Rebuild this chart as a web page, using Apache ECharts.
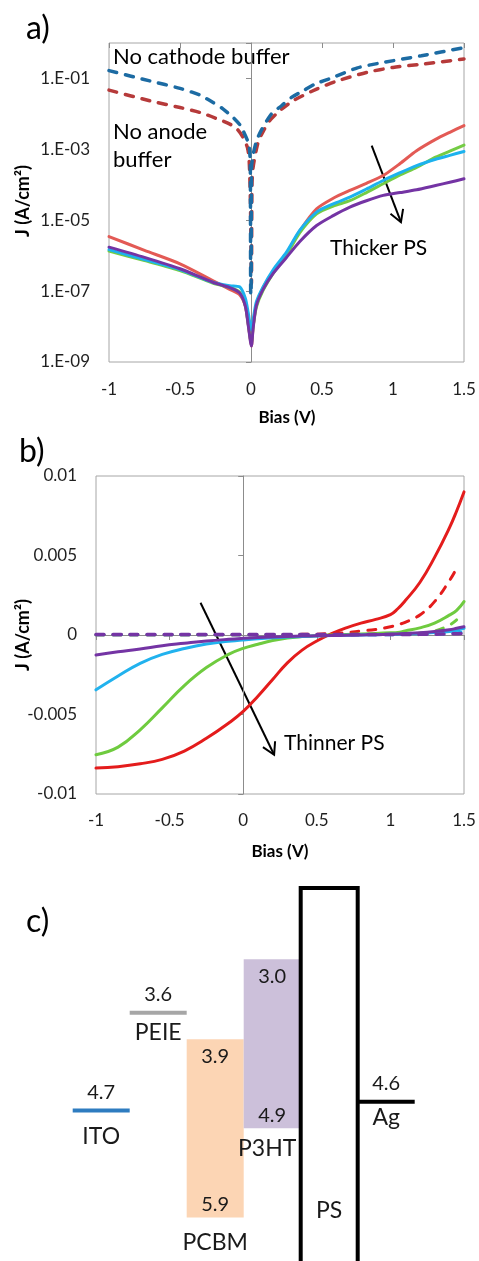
<!DOCTYPE html>
<html>
<head>
<meta charset="utf-8">
<script src="https://cdn.jsdelivr.net/npm/echarts@6/dist/echarts.min.js"></script>
<style>
  html, body { margin: 0; padding: 0; background: #ffffff; }
  #chart { width: 479px; height: 1261px; }
</style>
</head>
<body>
<div id="chart"></div>
<script>
// ---------- (a) dark J–V curves, log10(J) in A/cm² ----------
const biasA = [-1, -0.75, -0.5, -0.27, -0.15, -0.08, -0.04, -0.02, -0.004, 0.003, 0.015, 0.038, 0.085, 0.156, 0.25, 0.344, 0.462, 0.579, 0.696, 0.813, 0.931, 1.05, 1.166, 1.3, 1.4, 1.5];
const logJ_a_red    = [-5.46, -5.85, -6.23, -6.70, -6.95, -7.10, -7.42, -7.92, -8.39, -8.55, -8.00, -7.38, -6.90, -6.45, -5.95, -5.30, -4.68, -4.38, -4.16, -3.96, -3.74, -3.40, -3.04, -2.72, -2.52, -2.33];
const logJ_a_green  = [-5.87, -6.14, -6.42, -6.77, -6.90, -7.03, -7.40, -7.90, -8.35, -8.45, -8.00, -7.45, -6.98, -6.50, -5.98, -5.35, -4.82, -4.60, -4.45, -4.22, -3.97, -3.72, -3.51, -3.22, -3.05, -2.88];
const logJ_a_cyan   = [-5.83, -6.11, -6.39, -6.75, -6.85, -6.88, -7.20, -7.60, -8.00, -8.10, -7.80, -7.30, -6.88, -6.40, -5.90, -5.28, -4.77, -4.54, -4.35, -4.12, -3.88, -3.66, -3.46, -3.28, -3.17, -3.06];
const logJ_a_purple = [-5.76, -6.05, -6.37, -6.75, -6.90, -7.05, -7.42, -7.95, -8.42, -8.55, -8.05, -7.40, -6.95, -6.50, -6.05, -5.60, -5.15, -4.87, -4.63, -4.45, -4.30, -4.22, -4.14, -4.02, -3.93, -3.83];

const biasNoCathode = [-1, -0.713, -0.5, -0.36, -0.267, -0.2, -0.126, -0.08, -0.056, -0.025, -0.012, -0.005, -0.002, 0.001, 0.004, 0.015, 0.04, 0.074, 0.144, 0.215, 0.285, 0.367, 0.45, 0.579, 0.75, 0.931, 1.2, 1.5];
const logJ_noCathode = [-0.78, -1.07, -1.28, -1.47, -1.68, -1.85, -2.10, -2.30, -2.47, -2.75, -2.95, -3.40, -7.10, -7.00, -3.50, -3.15, -2.75, -2.45, -2.00, -1.77, -1.535, -1.35, -1.16, -0.97, -0.70, -0.55, -0.36, -0.13];

const biasNoAnode = [-1, -0.713, -0.5, -0.36, -0.25, -0.149, -0.1, -0.056, -0.025, -0.013, -0.004, 0.003, 0.007, 0.015, 0.05, 0.085, 0.13, 0.2, 0.3, 0.462, 0.6, 0.814, 1.0, 1.2, 1.5];
const logJ_noAnode = [-1.33, -1.63, -1.82, -1.96, -2.12, -2.29, -2.42, -2.66, -2.95, -3.30, -4.50, -6.80, -4.00, -3.50, -2.80, -2.50, -2.20, -1.92, -1.62, -1.30, -1.08, -0.83, -0.69, -0.60, -0.45];

// ---------- (b) illuminated J–V curves, J in A/cm² ----------
const biasB = [-1, -0.85, -0.7, -0.55, -0.4, -0.25, -0.1, 0, 0.1, 0.2, 0.3, 0.4, 0.5, 0.6, 0.7, 0.8, 0.9, 1.0, 1.05, 1.1, 1.2, 1.3, 1.4, 1.45, 1.5];
const jRedB        = [-0.00837, -0.00828, -0.00810, -0.00782, -0.00730, -0.00650, -0.00555, -0.00481, -0.00385, -0.00280, -0.00175, -0.00095, -0.00038, 0.00008, 0.00045, 0.00075, 0.00098, 0.00128, 0.00165, 0.00215, 0.00330, 0.00488, 0.00672, 0.00780, 0.00900];
const jRedDarkB    = [0.00002, 0.00002, 0.00002, 0.00002, 0.00002, 0.00002, 0.00002, 0.00002, 0.00002, 0.00002, 0.00003, 0.00004, 0.00005, 0.00010, 0.00015, 0.00025, 0.00035, 0.00052, 0.00065, 0.00080, 0.00126, 0.00210, 0.00340, 0.00420, null];
const jGreenB      = [-0.00753, -0.00705, -0.00596, -0.00458, -0.00318, -0.00205, -0.00122, -0.00084, -0.00058, -0.00035, -0.00019, -0.00010, -0.00004, 0.00000, 0.00003, 0.00006, 0.00010, 0.00014, 0.00016, 0.00026, 0.00045, 0.00075, 0.00125, 0.00155, 0.00210];
const jGreenDarkB  = [0.00001, 0.00001, 0.00001, 0.00001, 0.00001, 0.00001, 0.00001, 0.00001, 0.00001, 0.00001, 0.00001, 0.00001, 0.00002, 0.00002, 0.00003, 0.00003, 0.00004, 0.00005, 0.00006, 0.00007, 0.00012, 0.00024, 0.00062, 0.00095, null];
const jCyanB       = [-0.00345, -0.00258, -0.00178, -0.00122, -0.00085, -0.00057, -0.00040, -0.00031, -0.00024, -0.00018, -0.00013, -0.00009, -0.00006, -0.00003, -0.00001, 0.00000, 0.00002, 0.00004, 0.00005, 0.00007, 0.00010, 0.00015, 0.00022, 0.00030, 0.00042];
const jCyanDarkB   = [0.00001, 0.00001, 0.00001, 0.00001, 0.00001, 0.00001, 0.00001, 0.00001, 0.00001, 0.00001, 0.00001, 0.00001, 0.00001, 0.00001, 0.00001, 0.00001, 0.00001, 0.00002, 0.00002, 0.00003, 0.00004, 0.00006, 0.00010, 0.00014, 0.00020];
const jPurpleB     = [-0.00126, -0.00106, -0.00088, -0.00067, -0.00052, -0.00038, -0.00027, -0.00021, -0.00016, -0.00012, -0.00009, -0.00007, -0.00005, -0.00003, -0.00002, 0.00000, 0.00002, 0.00005, 0.00007, 0.00009, 0.00014, 0.00022, 0.00033, 0.00042, 0.00052];
const jPurpleDarkB = [0.00003, 0.00003, 0.00003, 0.00003, 0.00003, 0.00003, 0.00003, 0.00003, 0.00003, 0.00003, 0.00003, 0.00003, 0.00003, 0.00003, 0.00003, 0.00003, 0.00003, 0.00003, 0.00003, 0.00003, 0.00004, 0.00005, 0.00007, 0.00008, 0.00010];

// ---------- (c) energy levels (eV below vacuum) ----------
const electrodeNames = ['ITO', 'PEIE', 'Ag'];
const workFunctions  = [4.7, 3.6, 4.6];
const bandNames = ['PCBM', 'P3HT'];
const lumoLevels = [3.9, 3.0];
const homoLevels = [5.9, 4.9];
const insulatorName = 'PS';
const insulatorBand = [2.2, 6.6];

// annotation arrows, in data coordinates
const thickerArrow = { from: [0.85, 1.27e-3], to: [1.056, 8.8e-6] };
const thinnerArrow = { from: [-0.29, 0.00203], to: [0.21, -0.00753] };

// ---------- styling / layout ----------
const FONT = 'Lato';
const TICK_COLOR = '#1f1f1f';
const AXIS_GRAY = '#8c8c8c';
const colA = { red: '#e35a55', green: '#74cc45', cyan: '#1cb2ee', purple: '#7434a4', noCathode: '#1c6ba3', noAnode: '#b63a3a' };
const colB = { red: '#e41c1c', green: '#6fcb3f', cyan: '#21b2ee', purple: '#7434a4' };
const electrodeColors = { ITO: '#2e7cc0', PEIE: '#a6a6a6', Ag: '#000000' };
const bandColors = { PCBM: '#fcd5b4', P3HT: '#ccc0da' };
const slotOf = { ITO: 0, PEIE: 1, PCBM: 2, P3HT: 3, PS: 4, Ag: 5 };
const nameGapBelow = { ITO: 26, PEIE: 20, Ag: 16 };
const bandNameDx = { PCBM: 0, P3HT: -5 };

const pairsLog = (xs, es) => xs.map((x, i) => [x, Math.pow(10, es[i])]);
const pairs = (xs, ys) => xs.map((x, i) => [x, ys[i]]);

function solidLine(name, xi, yi, data, color, smooth) {
  return { name, type: 'line', xAxisIndex: xi, yAxisIndex: yi, data, symbol: 'none', smooth: smooth,
    lineStyle: { color, width: 3, cap: 'round', join: 'round' }, animation: false };
}
function dashedLine(name, xi, yi, data, color, smooth, width) {
  return { name, type: 'line', xAxisIndex: xi, yAxisIndex: yi, data, symbol: 'none', smooth: smooth,
    lineStyle: { color, width: width || 3.5, type: [8, 9], cap: 'round' }, animation: false };
}

const labelStyle = { fontFamily: FONT, fontSize: 17, color: TICK_COLOR };
const SM_A = 0.25, SM_B = 0.45;

const option = {
  animation: false,
  backgroundColor: '#ffffff',
  textStyle: { fontFamily: FONT },
  grid: [
    { left: 109, top: 43, width: 355, height: 319, show: true, borderColor: '#a6a6a6', borderWidth: 1, backgroundColor: 'transparent' },
    { left: 96, top: 476, width: 368, height: 318, show: true, borderColor: '#a6a6a6', borderWidth: 1, backgroundColor: 'transparent' },
    { left: 72.7, top: 880, width: 342, height: 381, show: false }
  ],
  xAxis: [
    { gridIndex: 0, type: 'value', min: -1, max: 1.5, interval: 0.5, position: 'bottom',
      axisLine: { show: false, onZero: false }, axisTick: { show: false }, splitLine: { show: false },
      axisLabel: Object.assign({ margin: 19 }, labelStyle) },
    { gridIndex: 0, type: 'value', min: -1, max: 1.5, interval: 0.5, position: 'top',
      axisLine: { show: false, onZero: false }, axisTick: { show: true, inside: true, length: 5, lineStyle: { color: AXIS_GRAY } },
      axisLabel: { show: false }, splitLine: { show: false } },
    { gridIndex: 1, type: 'value', min: -1, max: 1.5, interval: 0.5, position: 'bottom',
      axisLine: { show: false, onZero: false }, axisTick: { show: false }, splitLine: { show: false },
      axisLabel: Object.assign({ margin: 18 }, labelStyle) },
    { gridIndex: 1, type: 'value', min: -1, max: 1.5, interval: 0.5, position: 'bottom',
      axisLine: { show: true, onZero: true, onZeroAxisIndex: 3, lineStyle: { color: AXIS_GRAY, width: 1 } },
      axisTick: { show: true, length: 5, lineStyle: { color: AXIS_GRAY } }, axisLabel: { show: false }, splitLine: { show: false } },
    { gridIndex: 2, type: 'value', min: 0, max: 6, show: false }
  ],
  yAxis: [
    { gridIndex: 0, type: 'log', logBase: 10, min: 1e-9, max: 1, position: 'left',
      axisLine: { show: false, onZero: false }, axisTick: { show: false }, splitLine: { show: false }, minorTick: { show: false },
      axisLabel: Object.assign({ margin: 19, formatter: (v) => {
        const e = Math.round(Math.log10(v));
        if (e % 2 === 0) return '';
        return '1.E-' + String(-e).padStart(2, '0');
      } }, labelStyle) },
    // axis line through zero bias, ticks every two decades (exponent scale)
    { gridIndex: 0, type: 'value', min: -9, max: 0, interval: 2, position: 'left',
      axisLine: { show: true, onZero: true, onZeroAxisIndex: 0, lineStyle: { color: AXIS_GRAY, width: 1 } },
      axisTick: { show: true, length: 5, lineStyle: { color: AXIS_GRAY } }, axisLabel: { show: false }, splitLine: { show: false } },
    { gridIndex: 1, type: 'value', min: -0.01, max: 0.01, interval: 0.005, position: 'left',
      axisLine: { show: false, onZero: false }, axisTick: { show: false }, splitLine: { show: false },
      axisLabel: Object.assign({ margin: 19 }, labelStyle) },
    { gridIndex: 1, type: 'value', min: -0.01, max: 0.01, interval: 0.005, position: 'left',
      axisLine: { show: true, onZero: true, onZeroAxisIndex: 2, lineStyle: { color: AXIS_GRAY, width: 1 } },
      axisTick: { show: true, length: 5, lineStyle: { color: AXIS_GRAY } }, axisLabel: { show: false }, splitLine: { show: false } },
    { gridIndex: 2, type: 'value', inverse: true, min: 2.11, max: 6.39, show: false }
  ],
  series: [
    // (a)
    solidLine('a red', 0, 0, pairsLog(biasA, logJ_a_red), colA.red, SM_A),
    solidLine('a green', 0, 0, pairsLog(biasA, logJ_a_green), colA.green, SM_A),
    solidLine('a cyan', 0, 0, pairsLog(biasA, logJ_a_cyan), colA.cyan, SM_A),
    solidLine('a purple', 0, 0, pairsLog(biasA, logJ_a_purple), colA.purple, SM_A),
    dashedLine('No anode buffer', 0, 0, pairsLog(biasNoAnode, logJ_noAnode), colA.noAnode, SM_A),
    dashedLine('No cathode buffer', 0, 0, pairsLog(biasNoCathode, logJ_noCathode), colA.noCathode, SM_A),
    // (b)
    solidLine('b red', 2, 2, pairs(biasB, jRedB), colB.red, SM_B),
    dashedLine('b red dark', 2, 2, pairs(biasB, jRedDarkB), colB.red, SM_B, 3),
    solidLine('b green', 2, 2, pairs(biasB, jGreenB), colB.green, SM_B),
    dashedLine('b green dark', 2, 2, pairs(biasB, jGreenDarkB), colB.green, SM_B, 3),
    solidLine('b cyan', 2, 2, pairs(biasB, jCyanB), colB.cyan, SM_B),
    dashedLine('b cyan dark', 2, 2, pairs(biasB, jCyanDarkB), colB.cyan, SM_B, 3),
    solidLine('b purple', 2, 2, pairs(biasB, jPurpleB), colB.purple, SM_B),
    dashedLine('b purple dark', 2, 2, pairs(biasB, jPurpleDarkB), colB.purple, SM_B, 3.5),
    // (c) donor / acceptor bands
    {
      type: 'custom', coordinateSystem: 'cartesian2d', xAxisIndex: 4, yAxisIndex: 4,
      data: bandNames.map((n, k) => [slotOf[n], lumoLevels[k], homoLevels[k]]),
      renderItem: (params, api) => {
        const name = bandNames[params.dataIndex];
        const i = api.value(0), top = api.value(1), bot = api.value(2);
        const p0 = api.coord([i, top]), p1 = api.coord([i + 1, bot]);
        const cx = (p0[0] + p1[0]) / 2;
        return { type: 'group', children: [
          { type: 'rect', shape: { x: p0[0], y: p0[1], width: p1[0] - p0[0], height: p1[1] - p0[1] }, style: { fill: bandColors[name] } },
          { type: 'text', style: { text: top.toFixed(1), x: cx, y: p0[1] + 17, align: 'center', verticalAlign: 'middle', font: '20px ' + FONT, fill: '#1a1a1a' } },
          { type: 'text', style: { text: bot.toFixed(1), x: cx, y: p1[1] - 13, align: 'center', verticalAlign: 'middle', font: '20px ' + FONT, fill: '#1a1a1a' } },
          { type: 'text', style: { text: name, x: cx + bandNameDx[name], y: p1[1] + (name === 'PCBM' ? 25 : 20), align: 'center', verticalAlign: 'middle', font: '23px ' + FONT, fill: '#1a1a1a' } }
        ] };
      }
    },
    // (c) insulating PS layer
    {
      type: 'custom', coordinateSystem: 'cartesian2d', xAxisIndex: 4, yAxisIndex: 4,
      data: [[slotOf[insulatorName], insulatorBand[0], insulatorBand[1]]],
      renderItem: (params, api) => {
        const i = api.value(0);
        const p0 = api.coord([i, api.value(1)]), p1 = api.coord([i + 1, api.value(2)]);
        const cs = params.coordSys;
        return { type: 'group', children: [
          { type: 'rect', shape: { x: p0[0], y: p0[1], width: p1[0] - p0[0], height: p1[1] - p0[1] }, style: { fill: 'none', stroke: '#000', lineWidth: 4 } },
          { type: 'text', style: { text: insulatorName, x: (p0[0] + p1[0]) / 2, y: cs.y + cs.height - 50, align: 'center', verticalAlign: 'middle', font: '23px ' + FONT, fill: '#1a1a1a' } }
        ] };
      }
    },
    // (c) electrode / interlayer work functions
    {
      type: 'custom', coordinateSystem: 'cartesian2d', xAxisIndex: 4, yAxisIndex: 4,
      data: electrodeNames.map((n, k) => [slotOf[n], workFunctions[k]]),
      renderItem: (params, api) => {
        const name = electrodeNames[params.dataIndex];
        const i = api.value(0), wf = api.value(1);
        const a = api.coord([i, wf]), b = api.coord([i + 1, wf]);
        const cx = (a[0] + b[0]) / 2;
        return { type: 'group', children: [
          { type: 'line', shape: { x1: a[0], y1: a[1], x2: b[0], y2: b[1] }, style: { stroke: electrodeColors[name], lineWidth: 4 } },
          { type: 'text', style: { text: wf.toFixed(1), x: cx, y: a[1] - 18, align: 'center', verticalAlign: 'middle', font: '20px ' + FONT, fill: '#1a1a1a' } },
          { type: 'text', style: { text: name, x: cx, y: a[1] + nameGapBelow[name], align: 'center', verticalAlign: 'middle', font: '23px ' + FONT, fill: '#1a1a1a' } }
        ] };
      }
    }
  ]
};

const chart = echarts.init(document.getElementById('chart'), null, { renderer: 'canvas' });
chart.setOption(option);

// arrows with open heads, placed from data coordinates
function arrowElements(fromPx, toPx) {
  const dx = toPx[0] - fromPx[0], dy = toPx[1] - fromPx[1];
  const len = Math.hypot(dx, dy);
  const ux = -dx / len, uy = -dy / len;
  const head = 13.5, ang = 30 * Math.PI / 180;
  const rot = (c, s) => [toPx[0] + head * (ux * c - uy * s), toPx[1] + head * (ux * s + uy * c)];
  const w1 = rot(Math.cos(ang), Math.sin(ang));
  const w2 = rot(Math.cos(-ang), Math.sin(-ang));
  return [
    { type: 'line', shape: { x1: fromPx[0], y1: fromPx[1], x2: toPx[0], y2: toPx[1] }, style: { stroke: '#000', lineWidth: 2 } },
    { type: 'polyline', shape: { points: [w1, toPx, w2] }, style: { stroke: '#000', lineWidth: 2, fill: null } }
  ];
}
const finderA = { xAxisIndex: 0, yAxisIndex: 0 };
const finderB = { xAxisIndex: 2, yAxisIndex: 2 };
const arrA = arrowElements(chart.convertToPixel(finderA, thickerArrow.from), chart.convertToPixel(finderA, thickerArrow.to));
const arrB = arrowElements(chart.convertToPixel(finderB, thinnerArrow.from), chart.convertToPixel(finderB, thinnerArrow.to));

const txt = (text, x, y, font, align, extra) => Object.assign({
  type: 'text', x, y, silent: true,
  style: { text, font, fill: '#000', align: align || 'left', verticalAlign: 'middle' }
}, extra || {});

chart.setOption({
  graphic: [
    txt('a)', 26, 29, '32px ' + FONT),
    txt('b)', 19, 452, '32px ' + FONT),
    txt('c)', 26, 922, '32px ' + FONT),
    txt('J (A/cm²)', 23, 201, 'bold 18px ' + FONT, 'center', { rotation: Math.PI / 2 }),
    txt('J (A/cm²)', 23, 635, 'bold 18px ' + FONT, 'center', { rotation: Math.PI / 2 }),
    txt('Bias (V)', 287, 418, 'bold 17px ' + FONT, 'center'),
    txt('Bias (V)', 280, 852, 'bold 17px ' + FONT, 'center'),
    txt('No cathode buffer', 113, 57, '22px ' + FONT),
    txt('No anode', 113, 132, '22px ' + FONT),
    txt('buffer', 113, 160, '22px ' + FONT),
    txt('Thicker PS', 330, 248, '21px ' + FONT),
    txt('Thinner PS', 284, 743, '21px ' + FONT)
  ].concat(arrA, arrB)
});
</script>
</body>
</html>
